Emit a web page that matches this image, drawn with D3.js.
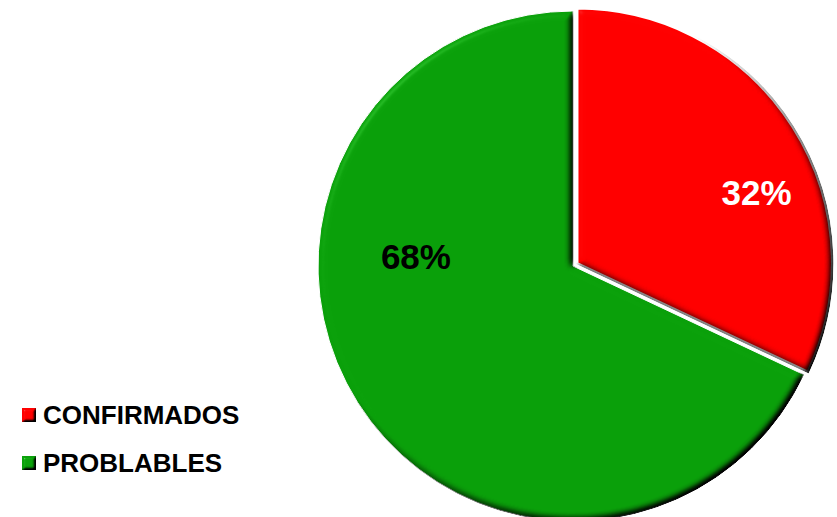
<!DOCTYPE html>
<html><head><meta charset="utf-8">
<script src="https://cdn.jsdelivr.net/npm/d3@7"></script>
<style>html,body{margin:0;padding:0;background:#fff;}svg{display:block;}</style>
</head><body>
<svg id="chart" width="837" height="517"></svg>
<script>
const categories = ["CONFIRMADOS", "PROBLABLES"];
const values = [32, 68];
const labels = ["32%", "68%"];
const colors = ["#ff0000", "#0aa00a"];
const labelColors = ["#ffffff", "#000000"];
// label placement relative to radius (dx, baseline dy fractions)
const labelOffsets = [[0.72, -0.24], [-0.616, 0.012]];

const svg = d3.select("#chart");
const cx = 573, cy = 266, R = 255, explode = 5;
const font = "'Liberation Sans', Arial, sans-serif";

const defs = svg.append("defs");
function bevel(id, blur, scale, specK) {
  const elev = 40;
  const slope = 1 / Math.sin(elev * Math.PI / 180);
  const f = defs.append("filter").attr("id", id)
    .attr("x", "-5%").attr("y", "-5%").attr("width", "110%").attr("height", "110%")
    .attr("color-interpolation-filters", "sRGB");
  f.append("feGaussianBlur").attr("in", "SourceAlpha").attr("stdDeviation", blur).attr("result", "blur");
  const d = f.append("feDiffuseLighting").attr("in", "blur").attr("surfaceScale", scale)
    .attr("diffuseConstant", 1).attr("lighting-color", "#fff").attr("result", "diff0");
  d.append("feDistantLight").attr("azimuth", 225).attr("elevation", elev);
  const ct = f.append("feComponentTransfer").attr("in", "diff0").attr("result", "diff");
  ["feFuncR", "feFuncG", "feFuncB"].forEach(fn =>
    ct.append(fn).attr("type", "linear").attr("slope", slope).attr("intercept", 0));
  const s = f.append("feSpecularLighting").attr("in", "blur").attr("surfaceScale", scale)
    .attr("specularConstant", 0.8).attr("specularExponent", 40).attr("lighting-color", "#fff").attr("result", "spec");
  s.append("feDistantLight").attr("azimuth", 225).attr("elevation", elev);
  f.append("feComposite").attr("in", "SourceGraphic").attr("in2", "diff").attr("operator", "arithmetic")
    .attr("k1", 1).attr("k2", 0).attr("k3", 0).attr("k4", 0).attr("result", "lit");
  f.append("feComposite").attr("in", "spec").attr("in2", "SourceAlpha").attr("operator", "in").attr("result", "specIn");
  f.append("feComposite").attr("in", "lit").attr("in2", "specIn").attr("operator", "arithmetic")
    .attr("k1", 0).attr("k2", 1).attr("k3", specK).attr("k4", 0).attr("result", "sum");
  f.append("feComposite").attr("in", "sum").attr("in2", "SourceAlpha").attr("operator", "in");
}
bevel("bevel", 3.5, 4, 0.12);
bevel("bevelSmall", 1.5, 2.5, 0.3);

const pie = d3.pie().sort(null).value(d => d);
const arcs = pie(values);
const arc = d3.arc().innerRadius(0).outerRadius(R);

const g = svg.append("g").attr("transform", `translate(${cx},${cy})`);

// draw green first, red on top
[1, 0].forEach(i => {
  const a = arcs[i];
  const mid = (a.startAngle + a.endAngle) / 2;
  const off = i === 0 ? explode : 0;
  const dx = Math.sin(mid) * off, dy = -Math.cos(mid) * off;
  g.append("path")
    .attr("d", arc(a))
    .attr("transform", `translate(${dx},${dy})`)
    .attr("fill", colors[i])
    .attr("stroke", "#fff")
    .attr("stroke-width", i === 0 ? 2.5 : 1)
    .attr("filter", "url(#bevel)");
});

labels.forEach((t, i) => {
  g.append("text")
    .attr("x", labelOffsets[i][0] * R)
    .attr("y", labelOffsets[i][1] * R)
    .attr("text-anchor", "middle")
    .attr("font-family", font)
    .attr("font-weight", "bold")
    .attr("font-size", 35)
    .attr("fill", labelColors[i])
    .text(t);
});

// legend
const leg = svg.append("g").attr("transform", "translate(22,408)");
const ly = d3.scalePoint().domain(categories).range([0, 48]);
categories.forEach((c, i) => {
  leg.append("rect").attr("x", 0).attr("y", ly(c)).attr("width", 14).attr("height", 14)
    .attr("fill", colors[i]).attr("filter", "url(#bevelSmall)");
  leg.append("text").attr("x", 21).attr("y", ly(c) + 16)
    .attr("font-family", font).attr("font-weight", "bold").attr("font-size", 26)
    .attr("fill", "#000").text(c);
});
</script>
</body></html>
